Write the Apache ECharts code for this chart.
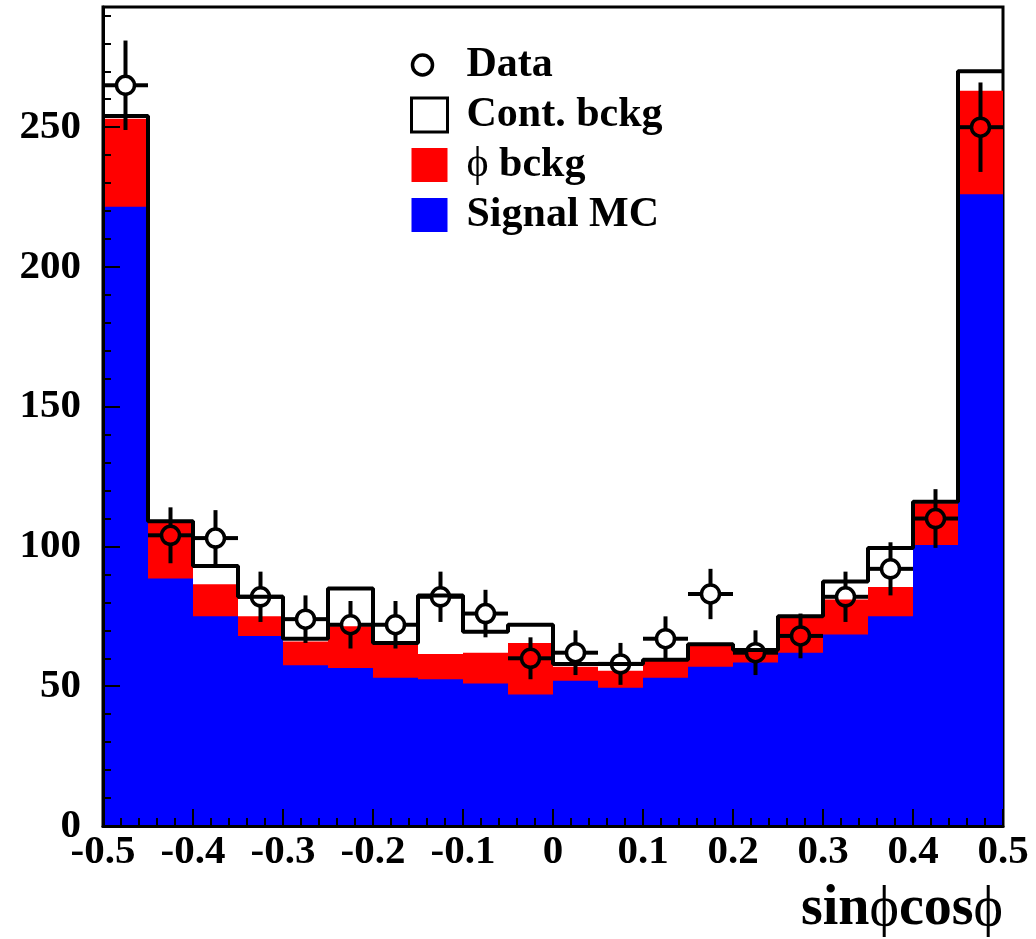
<!DOCTYPE html>
<html>
<head>
<meta charset="utf-8">
<script src="https://cdn.jsdelivr.net/npm/echarts@6/dist/echarts.min.js"></script>
<style>
  html, body { margin: 0; padding: 0; background: #fff; }
  #hist { width: 1036px; height: 939px; }
</style>
</head>
<body>
<div id="hist"></div>
<script>
// bin centres of sin(phi)cos(phi), width 0.05
var binCenters = [-0.475, -0.425, -0.375, -0.325, -0.275, -0.225, -0.175, -0.125, -0.075, -0.025,
                  0.025, 0.075, 0.125, 0.175, 0.225, 0.275, 0.325, 0.375, 0.425, 0.475];
var binWidth = 0.05;

// stacked histogram tops
var signalMC = [221.5, 88.5, 75, 68, 57.5, 56.5, 53, 52.5, 51, 47, 52, 49.5, 53, 57, 58.5, 62, 68.5, 75, 100.5, 226];
var phiTop   = [253, 108.5, 86.5, 75, 66, 71.5, 65, 61.5, 62, 65.5, 57, 55.5, 59.5, 64.5, 62.5, 74.5, 81, 85.5, 115.5, 263];
var totalTop = [254, 109, 93, 82, 67, 85, 65.5, 82.5, 69.5, 72, 58, 58, 59.5, 65, 63, 75, 87.5, 99.5, 116, 270];

// data points and errors
var dataVal = [265, 104, 103, 82, 74, 72, 72, 82, 76, 60, 62, 58, 67, 83, 62, 68, 82, 92, 110, 250];
var dataErr = [16, 10, 10, 9, 8.5, 8.5, 8.5, 9, 8.5, 7.5, 8, 7.5, 8, 9, 8, 8, 9, 9.5, 10.5, 16];

var FONT = 'Liberation Serif';

function pairs(ys) {
  return binCenters.map(function (x, i) { return [x, ys[i]]; });
}

function binRect(color) {
  return function (params, api) {
    var x = api.value(0), y = api.value(1);
    var p0 = api.coord([x - binWidth / 2, y]);
    var p1 = api.coord([x + binWidth / 2, 0]);
    return {
      type: 'rect',
      shape: { x: p0[0], y: p0[1], width: p1[0] - p0[0], height: p1[1] - p0[1] },
      style: { fill: color }
    };
  };
}

// outline of the total histogram as a step line
var stepPts = binCenters.map(function (x, i) { return [x - binWidth / 2, totalTop[i]]; });
stepPts.push([binCenters[binCenters.length - 1] + binWidth / 2, totalTop[totalTop.length - 1]]);

function renderData(params, api) {
  var x = api.value(0), y = api.value(1), e = api.value(2);
  var c = api.coord([x, y]);
  var left = api.coord([x - binWidth / 2, y])[0];
  var right = api.coord([x + binWidth / 2, y])[0];
  var top = api.coord([x, y + e])[1];
  var bot = api.coord([x, y - e])[1];
  var r = 9;
  var ls = { stroke: '#000', lineWidth: 4 };
  var kids = [
    { type: 'line', shape: { x1: left, y1: c[1], x2: c[0] - r, y2: c[1] }, style: ls },
    { type: 'line', shape: { x1: c[0] + r, y1: c[1], x2: right, y2: c[1] }, style: ls },
    { type: 'line', shape: { x1: c[0], y1: c[1] - r, x2: c[0], y2: top }, style: ls },
    { type: 'line', shape: { x1: c[0], y1: c[1] + r, x2: c[0], y2: bot }, style: ls },
    { type: 'circle', shape: { cx: c[0], cy: c[1], r: r }, style: { fill: 'none', stroke: '#000', lineWidth: 3.5 } }
  ];
  return { type: 'group', children: kids };
}

var myChart = echarts.init(document.getElementById('hist'));
var option = {
  animation: false,
  grid: {
    left: 103, right: 33, top: 7, bottom: 113,
    show: true, borderColor: '#000', borderWidth: 3, backgroundColor: '#fff'
  },
  legend: {
    orient: 'vertical',
    left: 409, top: 44,
    padding: 0,
    itemGap: 8,
    itemWidth: 36, itemHeight: 34,
    selectedMode: false,
    textStyle: {
      fontFamily: FONT, fontWeight: 'bold', fontSize: 42, color: '#000',
      padding: [0, 0, 0, 14],
      rich: {
        phi: { fontFamily: FONT, fontWeight: 'normal', fontSize: 42, color: '#000' }
      }
    },
    formatter: function (name) {
      return name === 'ϕ bckg' ? '{phi|ϕ} bckg' : name;
    },
    data: [
      { name: 'Data', icon: 'path://M0,0 M36,34 M1,17 A10,10 0 1,0 21,17 A10,10 0 1,0 1,17 Z',
        itemStyle: { color: 'none', borderColor: '#000', borderWidth: 3.5 } },
      { name: 'Cont. bckg', icon: 'rect',
        itemStyle: { color: '#fff', borderColor: '#000', borderWidth: 3 } },
      { name: 'ϕ bckg', icon: 'rect', itemStyle: { color: '#ff0000', borderWidth: 0 } },
      { name: 'Signal MC', icon: 'rect', itemStyle: { color: '#0000ff', borderWidth: 0 } }
    ]
  },
  xAxis: {
    type: 'value',
    z: 10,
    min: -0.5, max: 0.5, interval: 0.1,
    splitLine: { show: false },
    axisLine: { onZero: false, lineStyle: { color: '#000', width: 3 } },
    axisTick: { inside: true, length: 17, lineStyle: { color: '#000', width: 2 } },
    minorTick: { show: true, splitNumber: 5, length: 8, lineStyle: { color: '#000', width: 2 } },
    axisLabel: {
      margin: 6, color: '#000', fontFamily: FONT, fontWeight: 'bold', fontSize: 41,
      formatter: function (v) { return String(Math.round(v * 10) / 10); }
    },
    name: 'sin{phi|ϕ}cos{phi|ϕ}',
    nameLocation: 'end',
    nameGap: 0,
    nameTextStyle: {
      fontFamily: FONT, fontWeight: 'bold', fontSize: 56, color: '#000',
      align: 'right', verticalAlign: 'top', padding: [56, 0, 0, 0],
      rich: { phi: { fontFamily: FONT, fontWeight: 'normal', fontSize: 56, color: '#000' } }
    }
  },
  yAxis: {
    type: 'value',
    z: 10,
    min: 0, max: 293, interval: 50,
    splitLine: { show: false },
    axisLine: { show: true, onZero: false, lineStyle: { color: '#000', width: 3 } },
    axisTick: { inside: true, length: 17, lineStyle: { color: '#000', width: 2 } },
    minorTick: { show: true, splitNumber: 5, length: 8, lineStyle: { color: '#000', width: 2 } },
    axisLabel: {
      margin: 22, color: '#000', fontFamily: FONT, fontWeight: 'bold', fontSize: 41,
      showMaxLabel: false
    }
  },
  series: [
    {
      name: 'ϕ bckg', type: 'custom', renderItem: binRect('#ff0000'),
      data: pairs(phiTop), encode: { x: 0, y: 1 }, itemStyle: { color: '#ff0000' }, z: 2
    },
    {
      name: 'Signal MC', type: 'custom', renderItem: binRect('#0000ff'),
      data: pairs(signalMC), encode: { x: 0, y: 1 }, itemStyle: { color: '#0000ff' }, z: 3
    },
    {
      name: 'Cont. bckg', type: 'line', step: 'end', showSymbol: false, symbol: 'none',
      data: stepPts, lineStyle: { color: '#000', width: 4 }, itemStyle: { color: '#fff' }, z: 4
    },
    {
      name: 'Data', type: 'custom', renderItem: renderData,
      data: binCenters.map(function (x, i) { return [x, dataVal[i], dataErr[i]]; }),
      encode: { x: 0, y: 1 }, itemStyle: { color: '#000' }, z: 5
    }
  ]
};
myChart.setOption(option);
</script>
</body>
</html>
